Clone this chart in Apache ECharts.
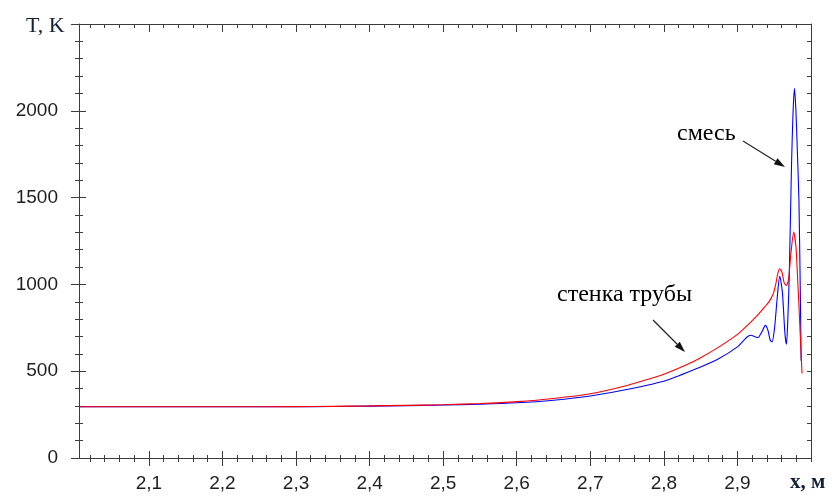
<!DOCTYPE html>
<html><head><meta charset="utf-8">
<script src="https://cdn.jsdelivr.net/npm/echarts@6/dist/echarts.min.js"></script>
<style>html,body{margin:0;padding:0;background:#fff}#c{width:832px;height:496px}</style>
</head><body><div id="c"></div>
<script>
// ---- data ----
const wallX = [2.005, 2.1, 2.2, 2.3, 2.35, 2.4, 2.45, 2.5, 2.55, 2.6, 2.65, 2.7, 2.75, 2.78, 2.8, 2.83, 2.85, 2.875, 2.9, 2.915, 2.929, 2.937, 2.942, 2.9455, 2.949, 2.952, 2.955, 2.9575, 2.9605, 2.9635, 2.9665, 2.9695, 2.9725, 2.9765, 2.9795, 2.9815, 2.9833, 2.986, 2.9878];
const wallT = [295, 295, 295, 296, 297.5, 300, 303, 307, 314, 325, 343, 370, 418, 455, 482, 535, 578, 640, 712, 770, 830, 870, 895, 918, 950, 1000, 1065, 1090, 1070, 1010, 994, 1030, 1170, 1301, 1220, 1060, 908, 650, 487];

const mixX = [2.005, 2.1, 2.2, 2.3, 2.35, 2.4, 2.45, 2.5, 2.55, 2.6, 2.65, 2.7, 2.753, 2.804, 2.8476, 2.875, 2.9, 2.9087, 2.914, 2.9186, 2.923, 2.928, 2.933, 2.938, 2.9415, 2.9445, 2.947, 2.9505, 2.954, 2.9575, 2.961, 2.9645, 2.9666, 2.9685, 2.9705, 2.9735, 2.9755, 2.9775, 2.9795, 2.9815, 2.9836, 2.9856, 2.9866];
const mixT = [295, 295, 295, 295.5, 297, 299, 301.5, 305, 310, 318, 333, 357, 397, 448, 520, 573, 640, 678, 700, 707, 700, 694, 725, 764, 735, 680, 668, 750, 920, 1046, 960, 720, 655, 800, 1060, 1684, 1980, 2130, 2000, 1760, 1483, 908, 560];

const xTickLabels = ['2,1', '2,2', '2,3', '2,4', '2,5', '2,6', '2,7', '2,8', '2,9'];
const yTickLabels = ['0', '500', '1000', '1500', '2000'];

const seriesNames = ['смесь', 'стенка трубы'];
const yTitle = 'T, K';
const xTitle = 'x, м';

// axis ranges and tick steps
const XMIN = 2.005, XMAX = 3.0, YMIN = 0, YMAX = 2500;
const X_MINOR_START = 2.02, X_MAJOR_START = 2.1, X_MAJOR_STEP = 0.1, X_MINOR_STEP = 0.02;
const Y_MAJOR_STEP = 500, Y_MINOR_STEP = 100;

// ---- layout ----
const PLOT_L = 79, PLOT_R = 811, PLOT_T = 24, PLOT_B = 458, W = 832, H = 496;
const pxPerUnit = (PLOT_R - PLOT_L) / (XMAX - XMIN);
const leftAt = v => PLOT_R - (XMAX - v) * pxPerUnit;

const AX = '#3c3c3c';
const LBL = '#1e1e1e';
const FONT_SANS = '"Liberation Sans", Arial, sans-serif';
const FONT_SERIF = '"Liberation Serif", "Times New Roman", serif';
const gridBox = l => ({ left: l, right: W - PLOT_R, top: PLOT_T, bottom: H - PLOT_B });
const ghostSplit = { show: true, lineStyle: { color: 'rgba(0,0,0,0)', width: 0 } };

function xAx(grid, pos, min, interval, len, inside, line, label) {
  return {
    type: 'value', gridIndex: grid, position: pos, min: min, max: XMAX, interval: interval,
    axisLine: { show: !!line, onZero: false, lineStyle: { color: AX, width: 1 } },
    axisTick: { show: len > 0, inside: inside, length: len, lineStyle: { color: AX, width: 1 } },
    axisLabel: label ? {
      show: true, margin: 16, showMaxLabel: false,
      formatter: v => { const i = Math.round((v - X_MAJOR_START) / X_MAJOR_STEP); return (i >= 0 && i < xTickLabels.length) ? xTickLabels[i] : ''; },
      color: LBL, fontSize: 19, fontFamily: FONT_SANS
    } : { show: false },
    splitLine: ghostSplit
  };
}
function yAx(grid, pos, interval, len, inside, line, label) {
  return {
    type: 'value', gridIndex: grid, position: pos, min: YMIN, max: YMAX, interval: interval,
    axisLine: { show: !!line, onZero: false, lineStyle: { color: AX, width: 1 } },
    axisTick: { show: len > 0, inside: inside, length: len, lineStyle: { color: AX, width: 1 } },
    axisLabel: label ? {
      show: true, margin: 21,
      formatter: v => { const i = Math.round(v / Y_MAJOR_STEP); return (i >= 0 && i < yTickLabels.length) ? yTickLabels[i] : ''; },
      color: LBL, fontSize: 19, fontFamily: FONT_SANS
    } : { show: false },
    splitLine: ghostSplit
  };
}
const hiddenY = g => ({ type: 'value', gridIndex: g, min: YMIN, max: YMAX, show: false });

const option = {
  animation: false,
  grid: [gridBox(PLOT_L), gridBox(leftAt(X_MINOR_START)), gridBox(leftAt(X_MAJOR_START))],
  xAxis: [
    xAx(0, 'bottom', XMIN, X_MAJOR_STEP, 0, false, true, false),
    xAx(0, 'top', XMIN, X_MAJOR_STEP, 0, true, true, false),
    xAx(1, 'bottom', X_MINOR_START, X_MINOR_STEP, 4, false, false, false),
    xAx(1, 'bottom', X_MINOR_START, X_MINOR_STEP, 3, true, false, false),
    xAx(1, 'top', X_MINOR_START, X_MINOR_STEP, 4, true, false, false),
    xAx(2, 'bottom', X_MAJOR_START, X_MAJOR_STEP, 8, false, false, true),
    xAx(2, 'bottom', X_MAJOR_START, X_MAJOR_STEP, 7, true, false, false),
    xAx(2, 'top', X_MAJOR_START, X_MAJOR_STEP, 8, true, false, false)
  ],
  yAxis: [
    yAx(0, 'left', Y_MAJOR_STEP, 8, false, true, true),
    yAx(0, 'left', Y_MAJOR_STEP, 7, true, false, false),
    yAx(0, 'left', Y_MINOR_STEP, 4, false, false, false),
    yAx(0, 'left', Y_MINOR_STEP, 4, true, false, false),
    yAx(0, 'right', Y_MINOR_STEP, 4, true, true, false),
    hiddenY(1), hiddenY(2)
  ],
  series: [
    {
      type: 'line', name: seriesNames[0], xAxisIndex: 0, yAxisIndex: 0,
      data: mixX.map((x, i) => [x, mixT[i]]),
      symbol: 'none', smooth: 0.25, z: 3,
      lineStyle: { color: '#0000ff', width: 1.1 }
    },
    {
      type: 'line', name: seriesNames[1], xAxisIndex: 0, yAxisIndex: 0,
      data: wallX.map((x, i) => [x, wallT[i]]),
      symbol: 'none', smooth: 0.25, z: 4,
      lineStyle: { color: '#ff0000', width: 1.1 }
    }
  ]
};

const chart = echarts.init(document.getElementById('c'), null, { renderer: 'canvas' });
chart.setOption(option);

function arrow(x1, y1, x2, y2) {
  const dx = x2 - x1, dy = y2 - y1, len = Math.hypot(dx, dy);
  const ux = dx / len, uy = dy / len, nx = -uy, ny = ux;
  const hl = 11, hw = 3.6;
  const bx = x2 - ux * hl, by = y2 - uy * hl;
  return [
    { type: 'line', shape: { x1: x1, y1: y1, x2: bx, y2: by }, style: { stroke: '#222', lineWidth: 1.2 }, z: 100 },
    { type: 'polygon', shape: { points: [[x2, y2], [bx + nx * hw, by + ny * hw], [bx - nx * hw, by - ny * hw]] }, style: { fill: '#111' }, z: 100 }
  ];
}
chart.setOption({
  graphic: [
    { type: 'text', x: 26, y: 26, style: { text: yTitle, font: '22px ' + FONT_SERIF, fill: '#14203a', align: 'left', verticalAlign: 'middle' } },
    { type: 'text', x: 790, y: 483, style: { text: xTitle, font: 'bold 21px ' + FONT_SERIF, fill: '#14203a', align: 'left', verticalAlign: 'middle' } },
    { type: 'text', x: 677, y: 134, style: { text: seriesNames[0], font: '24px ' + FONT_SERIF, fill: '#000', align: 'left', verticalAlign: 'middle' } },
    { type: 'text', x: 557, y: 295, style: { text: seriesNames[1], font: '24px ' + FONT_SERIF, fill: '#000', align: 'left', verticalAlign: 'middle' } }
  ].concat(arrow(743, 141, 785, 167), arrow(653, 320, 685, 352))
});
</script>
</body></html>
